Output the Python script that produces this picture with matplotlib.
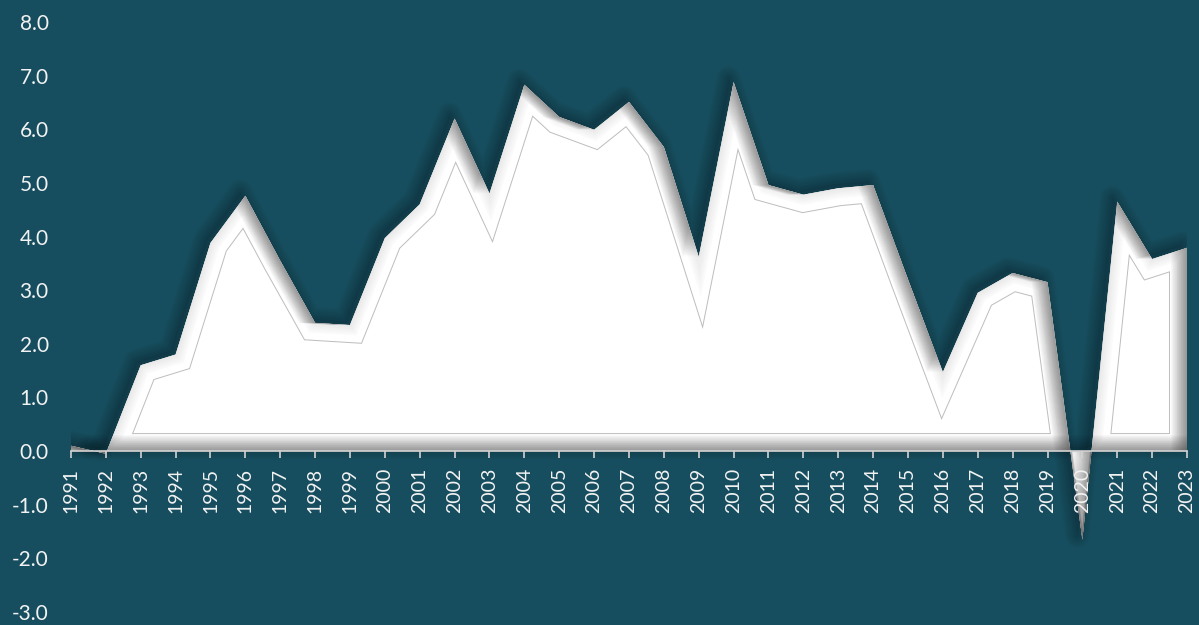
import numpy as np
import matplotlib

matplotlib.use("Agg")
import matplotlib.pyplot as plt
from matplotlib.patches import PathPatch
from matplotlib.path import Path
from matplotlib.transforms import IdentityTransform

# --- dati ---
years = list(range(1991, 2024))
growth = [
    0.10, -0.05, 1.60, 1.80, 3.88, 4.76, 3.55, 2.39, 2.35, 3.97,
    4.60, 6.20, 4.80, 6.83, 6.23, 5.99, 6.51, 5.67, 3.62, 6.88,
    4.96, 4.78, 4.90, 4.96, 3.20, 1.47, 2.95, 3.32, 3.15, -1.65,
    4.65, 3.58, 3.79,
]
y_ticks = [-3.0, -2.0, -1.0, 0.0, 1.0, 2.0, 3.0, 4.0, 5.0, 6.0, 7.0, 8.0]

# --- colori ---
C_BG = "#174E5F"
C_TEXT = "#F2F2F2"
C_AXIS = "#D2D2D2"
C_INNER = "#BEBEBE"
C_SHADE = "#303030"

plt.rcParams["font.family"] = ["Lato", "DejaVu Sans"]

# --- figura ---
fig = plt.figure(figsize=(11.99, 6.25), dpi=100, facecolor=C_BG)
ax = fig.add_axes([0.0592, 0.0208, 0.9308, 0.944])
ax.set_facecolor(C_BG)
ax.set_xlim(years[0], years[-1])
ax.set_ylim(y_ticks[0], y_ticks[-1])

x = np.asarray(years, dtype=float)
y = np.asarray(growth, dtype=float)

# --- regioni sopra / sotto lo zero ---
pos = ax.fill_between(x, y, 0, where=y >= 0, interpolate=True)
neg = ax.fill_between(x, y, 0, where=y <= 0, interpolate=True)
paths = list(pos.get_paths()) + list(neg.get_paths())
pos.remove()
neg.remove()

px_per_pt = fig.dpi / 72.0
W = 17  # larghezza bevel in px
fw, fh = fig.bbox.width, fig.bbox.height
rect = np.array([[-20, -20], [fw + 20, -20], [fw + 20, fh + 20], [-20, fh + 20], [-20, -20]])
rect_codes = [Path.MOVETO] + [Path.LINETO] * 3 + [Path.CLOSEPOLY]


def signed_area(p):
    return 0.5 * np.sum(p[:-1, 0] * p[1:, 1] - p[1:, 0] * p[:-1, 1])


def clipped(patch, clip):
    ax.add_patch(patch)
    patch.set_clip_path(clip)


for p in paths:
    poly = ax.transData.transform_path(p).to_polygons()[0]
    if len(poly) < 4:
        continue
    path = Path(poly, closed=True)

    # --- ombra esterna sfumata ---
    shifted = Path(poly + np.array([-5.0, 4.0]), closed=True)
    for lw in [24, 20, 16, 12, 8, 4]:
        ax.add_patch(PathPatch(shifted, transform=IdentityTransform(), facecolor="none",
                               edgecolor="black", lw=lw / px_per_pt, alpha=0.035,
                               joinstyle="round", zorder=1.0))
    ax.add_patch(PathPatch(shifted, transform=IdentityTransform(), facecolor="black",
                           edgecolor="none", alpha=0.05, zorder=1.0))

    # --- riempimento bianco ---
    base = PathPatch(path, transform=IdentityTransform(), facecolor="white",
                     edgecolor="none", zorder=1.2)
    ax.add_patch(base)

    # --- linea interna del bevel ---
    for lw, col, z in [(2 * W + 2.0, C_INNER, 1.3), (2 * W, "white", 1.4)]:
        clipped(PathPatch(path, transform=IdentityTransform(), fill=False, edgecolor=col,
                          lw=lw / px_per_pt, joinstyle="miter", zorder=z), base)

    # --- leggera sfumatura uniforme sul bordo ---
    for k in range(2, 12, 2):
        clipped(PathPatch(path, transform=IdentityTransform(), fill=False, edgecolor=C_SHADE,
                          lw=2 * k / px_per_pt, alpha=0.018, joinstyle="miter", zorder=1.45), base)

    # --- ombra interna direzionale (luce da sinistra in alto) ---
    inner = poly[::-1] if signed_area(poly) > 0 else poly
    for d in range(1, 17):
        for shift in ([-d, 0.0], [0.0, d]):
            hole = inner + np.array(shift)
            verts = np.vstack([rect, hole])
            codes = rect_codes + [Path.MOVETO] + [Path.LINETO] * (len(hole) - 2) + [Path.CLOSEPOLY]
            clipped(PathPatch(Path(verts, codes), transform=IdentityTransform(),
                              facecolor=C_SHADE, edgecolor="none", alpha=0.03, zorder=1.5), base)

# --- assi ---
ax.set_yticks(y_ticks)
ax.set_yticklabels([f"{v:.1f}" for v in y_ticks])
ax.set_xticks(years)
ax.set_xticklabels([str(v) for v in years])
ax.tick_params(axis="y", length=0, pad=16, labelsize=15, labelcolor=C_TEXT)
ax.tick_params(axis="x", length=5, width=1.2, color=C_AXIS, pad=7, labelsize=14,
               labelcolor=C_TEXT, direction="out", labelrotation=90)
ax.spines["bottom"].set_position(("data", 0))
ax.spines["bottom"].set_color(C_AXIS)
ax.spines["bottom"].set_linewidth(1.2)
ax.spines["bottom"].set_zorder(3)
ax.xaxis.set_zorder(4)
for s in ["top", "right", "left"]:
    ax.spines[s].set_visible(False)

fig.savefig("out.png", dpi=100, facecolor=C_BG)
